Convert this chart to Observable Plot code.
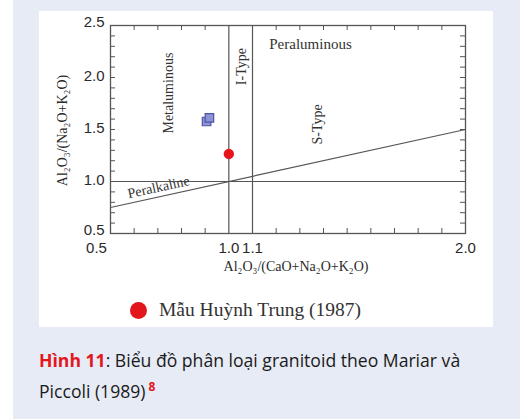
<!DOCTYPE html>
<html>
<head>
<meta charset="utf-8">
<script src="https://cdn.jsdelivr.net/npm/d3@7"></script>
<script src="https://cdn.jsdelivr.net/npm/@observablehq/plot@0.6"></script>
<style>
  html, body { margin: 0; padding: 0; background: #fff; }
  #page { position: relative; width: 520px; height: 419px; overflow: hidden; }
  #panel { position: absolute; left: 13px; top: 0; width: 507px; height: 419px; background: #e7ebf5; }
  #card { position: absolute; left: 39px; top: 11px; width: 454px; height: 316px; background: #fff; }
  #chart { position: absolute; left: 0; top: 0; }
  #legend { position: absolute; left: 91px; top: 287px; height: 24px; display: flex; align-items: center;
            font-family: "Liberation Serif", "Times New Roman", serif; font-size: 19.5px; color: #333; }
  #legend .swatch { width: 17px; height: 17px; border-radius: 50%; background: #e3161d; margin-right: 12px; }
  .cap { position: absolute; left: 39px; width: 480px; font-family: "Open Sans", sans-serif;
         font-size: 17.6px; line-height: 24px; height: 24px; color: #1a1a1a; white-space: nowrap; }
  .cap b { color: #e3171e; font-weight: 700; }
  .cap sup { color: #e3171e; font-weight: 700; font-size: 12px; line-height: 0; vertical-align: 7px; margin-left: 3px; }
</style>
</head>
<body>
<div id="page">
  <div id="panel"></div>
  <div id="card">
    <div id="chart"></div>
    <div id="legend"><span class="swatch"></span><span id="legend-text"></span></div>
  </div>
  <div class="cap" id="cap1" style="top:348px"></div>
  <div class="cap" id="cap2" style="top:379px"></div>
</div>
<script>
// Granitoid classification diagram (Maniar & Piccoli): A/CNK vs A/NK.
const xDomain = [0.5, 2.0];
const yDomain = [0.5, 2.5];

// Labelled ticks
const xTickLabels = [1.0, 1.1, 2.0];
const xTickFirst = [0.5];
const yTickLabels = [1.0, 1.5, 2.0];
const yTickBottom = [0.5];
const yTickTop = [2.5];

// Minor inward ticks on all four sides
const xMinor = [0.6, 0.7, 0.8, 0.9, 1.2, 1.3, 1.4, 1.5, 1.6, 1.7, 1.8, 1.9];
const yMinor = [0.6, 0.7, 0.8, 0.9, 1.0, 1.1, 1.2, 1.3, 1.4, 1.5, 1.6, 1.7, 1.8, 1.9,
                2.0, 2.1, 2.2, 2.3, 2.4];

// Field boundaries
const aCnkLines = [1.0, 1.1];          // metaluminous / I-type / S-type limits
const aNkLine = [1.0];                 // peralkaline limit
const peralkalineX = [0.5, 2.0];
const peralkalineY = [0.75, 1.5];

// Field names
const fieldNames = ["Metaluminous", "I-Type", "S-Type"];
const fieldX = [0.745, 1.053, 1.375];
const fieldY = [1.85, 2.105, 1.55];
const peraluminousLabel = { name: "Peraluminous", x: 1.345, y: 2.325 };
const peralkalineLabel = { name: "Peralkaline", x: 0.703, y: 0.945 };

// Samples
const refX = [0.906, 0.918];
const refY = [1.577, 1.611];
const huynhTrungX = [1.0];
const huynhTrungY = [1.265];

const xTitle = "Al₂O₃/(CaO+Na₂O+K₂O)";
const yTitle = "Al₂O₃/(Na₂O+K₂O)";
const legendLabel = "Mẫu Huỳnh Trung (1987)";
const captionLine1 = "<b>Hình 11</b>: Biểu đồ phân loại granitoid theo Mariar và";
const captionLine2 = "Piccoli (1989)<sup>8</sup>";

// Layout
const W = 454, H = 270;
const mL = 71, mR = 28, mT = 14, mB = 48;
const innerW = W - mL - mR, innerH = H - mT - mB;
const tick = 5;
const ink = "#555";
const serif = "'Liberation Serif', 'Times New Roman', serif";
const sans = "'Liberation Sans', Arial, sans-serif";

const divider = peralkalineX.map((x, i) => ({ x, y: peralkalineY[i] }));
const fields = fieldNames.map((name, i) => ({ name, x: fieldX[i], y: fieldY[i] }));
const refs = refX.map((x, i) => ({ x, y: refY[i] }));
const samples = huynhTrungX.map((x, i) => ({ x, y: huynhTrungY[i] }));

// Angle of the peralkaline line on screen
const slopePx = ((peralkalineY[1] - peralkalineY[0]) / (yDomain[1] - yDomain[0]) * innerH) /
                ((peralkalineX[1] - peralkalineX[0]) / (xDomain[1] - xDomain[0]) * innerW);
const lineAngle = -Math.atan(slopePx) * 180 / Math.PI;

const axisFont = { fontSize: 15, fontFamily: sans, fill: "#2a2a2a", tickFormat: d3.format(".1f"), label: null, tickSize: 0 };

const chart = Plot.plot({
  width: W, height: H,
  marginLeft: mL, marginRight: mR, marginTop: mT, marginBottom: mB,
  style: { background: "transparent", overflow: "visible" },
  x: { domain: xDomain, nice: false },
  y: { domain: yDomain, nice: false },
  marks: [
    // inward minor ticks
    Plot.tickX(xMinor, { x: d => d, insetTop: innerH - tick, stroke: ink }),
    Plot.tickX(xMinor, { x: d => d, insetBottom: innerH - tick, stroke: ink }),
    Plot.tickY(yMinor, { y: d => d, insetRight: innerW - tick, stroke: ink }),
    Plot.tickY(yMinor, { y: d => d, insetLeft: innerW - tick, stroke: ink }),
    // boundaries
    Plot.ruleX(aCnkLines, { stroke: ink, strokeWidth: 1.2 }),
    Plot.ruleY(aNkLine, { stroke: ink, strokeWidth: 1.2 }),
    Plot.line(divider, { x: "x", y: "y", stroke: ink, strokeWidth: 1.2 }),
    Plot.frame({ stroke: ink, strokeWidth: 1.3 }),
    // tick labels
    Plot.axisX(xTickLabels, { tickPadding: 9, ...axisFont }),
    Plot.axisX(xTickFirst, { tickPadding: 9, dx: -14, ...axisFont }),
    Plot.axisY(yTickLabels, { tickPadding: 6, dy: -1, ...axisFont }),
    Plot.axisY(yTickBottom, { tickPadding: 6, dy: -3, ...axisFont }),
    Plot.axisY(yTickTop, { tickPadding: 6, dy: -3, ...axisFont }),
    // axis titles
    Plot.text([xTitle], { text: d => d, frameAnchor: "bottom", textAnchor: "middle", dx: 8, dy: 37, fontFamily: serif, fontSize: 14, fill: "#2a2a2a" }),
    Plot.text([yTitle], { text: d => d, frameAnchor: "left", textAnchor: "middle", rotate: -90, dx: -48, dy: 1, fontFamily: serif, fontSize: 14, fill: "#2a2a2a" }),
    // field names
    Plot.text(fields, { x: "x", y: "y", text: "name", rotate: -90, fontFamily: serif, fontSize: 14, fill: "#333" }),
    Plot.text([peraluminousLabel], { x: "x", y: "y", text: "name", fontFamily: serif, fontSize: 15, fill: "#333" }),
    Plot.text([peralkalineLabel], { x: "x", y: "y", text: "name", rotate: lineAngle, fontFamily: serif, fontSize: 14, fill: "#333" }),
    // samples
    Plot.dot(refs, { x: "x", y: "y", symbol: "square", r: 4.8, fill: "#8d93d3", stroke: "#4d54a3", strokeWidth: 1.2 }),
    Plot.dot(samples, { x: "x", y: "y", r: 5.2, fill: "#e8141b", stroke: "none" })
  ]
});
document.getElementById("chart").append(chart);

document.getElementById("legend-text").textContent = legendLabel;
document.getElementById("cap1").innerHTML = captionLine1;
document.getElementById("cap2").innerHTML = captionLine2;
</script>
</body>
</html>
